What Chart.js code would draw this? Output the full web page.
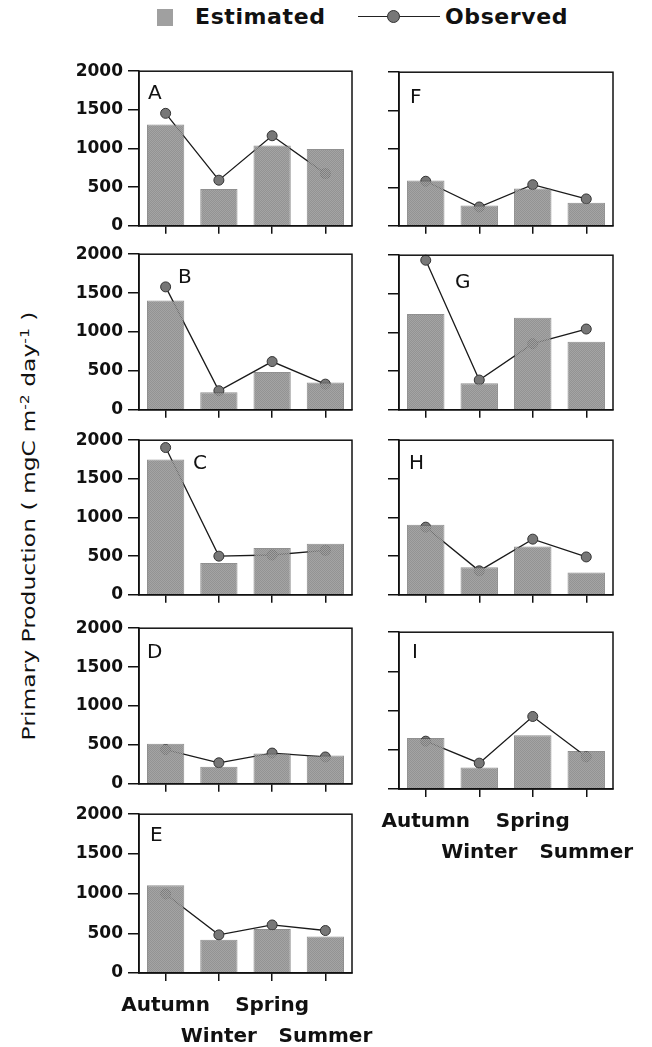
<!DOCTYPE html>
<html>
<head>
<meta charset="utf-8">
<script src="https://cdn.jsdelivr.net/npm/chart.js@4.4.1/dist/chart.umd.min.js"></script>
<style>
  body { margin: 0; background: #fff; width: 652px; height: 1047px; position: relative; overflow: hidden; font-family: "DejaVu Sans", sans-serif; }
  canvas { position: absolute; }
  .lg { position: absolute; }
  .lg-text { position: absolute; top: 0; height: 34px; line-height: 34px; font-weight: bold; font-size: 22px; letter-spacing: 0.6px; color: #111; white-space: nowrap; }
  #ytitle { position: absolute; left: 28px; top: 526px; font-size: 18px; color: #111; white-space: nowrap;
            transform: translate(-50%, -50%) rotate(-90deg) scaleX(1.3); }
  #ytitle sup { font-size: 12px; vertical-align: 6px; line-height: 0; }
</style>
</head>
<body>

<div class="lg" style="left:157px;top:9px;width:16px;height:17px;background:#a0a0a0;"></div>
<span class="lg-text" style="left:195px;">Estimated</span>
<div class="lg" style="left:358px;top:16px;width:82px;height:1px;background:#222;"></div>
<div class="lg" style="left:387px;top:10px;width:11px;height:11px;border-radius:50%;background:#777;border:1px solid #333;"></div>
<span class="lg-text" style="left:445px;">Observed</span>

<div id="ytitle">Primary Production ( mgC m<sup>-2</sup> day<sup>-1</sup> )</div>

<script>
// seasons on the x axis, tick values on the y axis
const seasons = ['Autumn', 'Winter', 'Spring', 'Summer'];
const yTicks = [0, 500, 1000, 1500, 2000];

// estimated (bars) and observed (points) primary production, mgC m-2 day-1
const estA = [1310, 475, 1040, 995];
const obsA = [1455, 590, 1165, 675];
const estB = [1405, 225, 485, 350];
const obsB = [1580, 245, 620, 330];
const estC = [1750, 410, 605, 660];
const obsC = [1905, 500, 515, 575];
const estD = [515, 220, 390, 365];
const obsD = [440, 270, 395, 345];
const estE = [1105, 420, 555, 460];
const obsE = [995, 480, 605, 535];
const estF = [590, 265, 485, 300];
const obsF = [580, 245, 535, 350];
const estG = [1240, 345, 1190, 880];
const obsG = [1935, 385, 855, 1045];
const estH = [905, 355, 625, 290];
const obsH = [875, 310, 720, 490];
const estI = [650, 275, 685, 485];
const obsI = [610, 330, 925, 410];

const panelData = {
  A: [estA, obsA], B: [estB, obsB], C: [estC, obsC], D: [estD, obsD], E: [estE, obsE],
  F: [estF, obsF], G: [estG, obsG], H: [estH, obsH], I: [estI, obsI]
};

// page layout of each panel (plot box in page pixels, letter offset inside box)
const layout = [
  { id: 'A', col: 0, top: 70,  bottom: 229, dx: 9,  dy: 13, labels: false },
  { id: 'B', col: 0, top: 253, bottom: 413, dx: 39, dy: 14, labels: false },
  { id: 'C', col: 0, top: 439, bottom: 598, dx: 54, dy: 14, labels: false },
  { id: 'D', col: 0, top: 627, bottom: 787, dx: 8,  dy: 15, labels: false },
  { id: 'E', col: 0, top: 813, bottom: 973, dx: 11, dy: 12, labels: true },
  { id: 'F', col: 1, top: 71,  bottom: 229, dx: 11, dy: 16, labels: false },
  { id: 'G', col: 1, top: 254, bottom: 413, dx: 56, dy: 18, labels: false },
  { id: 'H', col: 1, top: 439, bottom: 598, dx: 10, dy: 14, labels: false },
  { id: 'I', col: 1, top: 631, bottom: 789, dx: 13, dy: 11, labels: true }
];
const columns = [
  { canvasLeft: 40,  canvasWidth: 360, plotLeft: 139, plotRight: 352, yLabels: true },
  { canvasLeft: 360, canvasWidth: 292, plotLeft: 399, plotRight: 613, yLabels: false }
];
const PAD_TOP = 14;

// stippled grey for the bars (semi transparent, the line shows through)
function stipple() {
  const c = document.createElement('canvas');
  c.width = 2; c.height = 2;
  const g = c.getContext('2d');
  g.fillStyle = 'rgba(128,128,128,0.85)';
  g.fillRect(0, 0, 2, 2);
  g.fillStyle = 'rgba(168,168,168,0.85)';
  g.fillRect(0, 0, 1, 1);
  g.fillRect(1, 1, 1, 1);
  return g.createPattern(c, 'repeat');
}
const barFill = stipple();

// box around the plot and the panel letter
const framePlugin = {
  id: 'frame',
  afterDraw(chart, args, opts) {
    const { ctx, chartArea: a } = chart;
    ctx.save();
    ctx.strokeStyle = '#111';
    ctx.lineWidth = 1.5;
    ctx.strokeRect(a.left, a.top, a.right - a.left, a.bottom - a.top);
    ctx.font = '20px "DejaVu Sans"';
    ctx.fillStyle = '#111';
    ctx.textBaseline = 'alphabetic';
    ctx.fillText(opts.letter, a.left + opts.dx, a.top + opts.dy + 14.6);
    ctx.restore();
  }
};

layout.forEach(p => {
  const col = columns[p.col];
  const plotH = p.bottom - p.top;
  const xH = p.labels ? 82 : 10;
  const h = PAD_TOP + plotH + xH + 2;
  const canvas = document.createElement('canvas');
  canvas.width = col.canvasWidth;
  canvas.height = h;
  canvas.style.left = col.canvasLeft + 'px';
  canvas.style.top = (p.top - PAD_TOP) + 'px';
  document.body.appendChild(canvas);

  const [est, obs] = panelData[p.id];
  new Chart(canvas.getContext('2d'), {
    data: {
      labels: seasons,
      datasets: [
        {
          type: 'bar',
          label: 'Estimated',
          data: est,
          order: 0,
          backgroundColor: barFill,
          borderColor: 'rgba(70,70,70,0.6)',
          borderWidth: 1,
          categoryPercentage: 1,
          barPercentage: 0.7
        },
        {
          type: 'line',
          label: 'Observed',
          data: obs,
          order: 1,
          borderColor: '#1a1a1a',
          borderWidth: 1.3,
          pointRadius: 5,
          pointBackgroundColor: '#777',
          pointBorderColor: '#333',
          pointBorderWidth: 1,
          tension: 0,
          clip: false
        }
      ]
    },
    options: {
      responsive: false,
      animation: false,
      devicePixelRatio: 1,
      layout: {
        autoPadding: false,
        padding: { top: PAD_TOP, left: 0, right: col.canvasWidth - (col.plotRight - col.canvasLeft), bottom: 2 }
      },
      plugins: {
        legend: { display: false },
        tooltip: { enabled: false },
        frame: { letter: p.id, dx: p.dx, dy: p.dy }
      },
      scales: {
        x: {
          offset: true,
          grid: { display: true, drawOnChartArea: false, drawTicks: true, tickLength: 8, offset: false, color: '#111', lineWidth: 1.5 },
          border: { display: true, color: '#111', width: 1.5 },
          ticks: {
            display: p.labels,
            autoSkip: false,
            maxRotation: 0,
            minRotation: 0,
            padding: 9,
            color: '#111',
            font: { family: '"DejaVu Sans"', size: 20, weight: 'bold', lineHeight: 1.55 },
            callback: (v, i) => i % 2 ? ['', seasons[i]] : [seasons[i], '']
          },
          afterFit(scale) { scale.height = xH; }
        },
        y: {
          min: 0,
          max: 2000,
          afterBuildTicks(scale) { scale.ticks = yTicks.map(v => ({ value: v })); },
          grid: { display: true, drawOnChartArea: false, drawTicks: true, tickLength: 11, color: '#111', lineWidth: 1.5 },
          border: { display: true, color: '#111', width: 1.5 },
          ticks: {
            padding: 5,
            color: '#111',
            font: { family: '"DejaVu Sans"', size: 17, weight: 'bold' },
            callback: v => col.yLabels ? String(v) : ''
          },
          afterFit(scale) { scale.width = col.plotLeft - col.canvasLeft; }
        }
      }
    },
    plugins: [framePlugin]
  });
});
</script>
</body>
</html>
